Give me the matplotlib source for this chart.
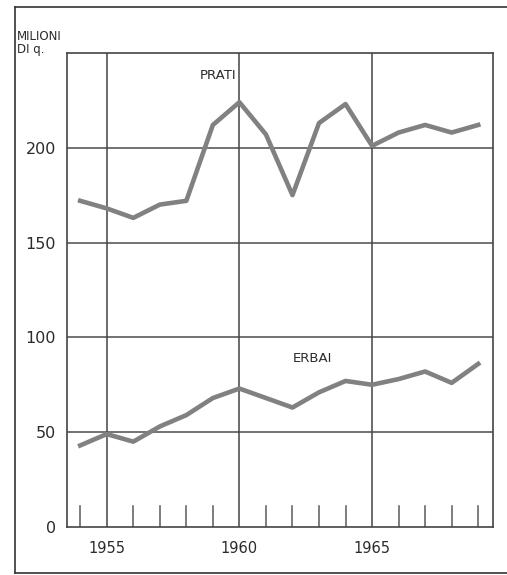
"""Produzione foraggere: prati ed erbai, 1954-1969 (milioni di q.)."""
import matplotlib
matplotlib.use("Agg")
import matplotlib.pyplot as plt
from matplotlib.lines import Line2D

years = list(range(1954, 1970))
prati = [172, 168, 163, 170, 172, 212, 224, 207, 175, 213, 223, 201, 208, 212, 208, 212]
erbai = [43, 49, 45, 53, 59, 68, 73, 68, 63, 71, 77, 75, 78, 82, 76, 86]
grid_years = [1955, 1960, 1965]
y_ticks = [0, 50, 100, 150, 200]

LINE = "#818181"
INK = "#2b2b2b"
GRID = "#5a5a5a"

plt.rcParams["font.family"] = ["DejaVu Sans"]

fig = plt.figure(figsize=(5.07, 5.75), dpi=100)
ax = fig.add_axes([0.132, 0.0835, 0.840, 0.8245])

ax.set_xlim(1953.5, 1969.55)
ax.set_ylim(0, 250)

# griglia orizzontale e verticale
for v in y_ticks[1:]:
    ax.axhline(v, color=GRID, lw=1.2, zorder=1)
for yr in grid_years:
    ax.axvline(yr, color="#444444", lw=1.1, zorder=1)

# tacche corte per gli anni intermedi
for yr in years:
    if yr not in grid_years:
        ax.plot([yr, yr], [0, 11], color=GRID, lw=1.1, zorder=1)

ax.plot(years, prati, color=LINE, lw=3.3, zorder=3)
ax.plot(years, erbai, color=LINE, lw=3.3, zorder=3)

ax.text(1960 - 0.8, 238, "PRATI", fontsize=9.5, color=INK, ha="center", va="center")
ax.text(1962.75, 89, "ERBAI", fontsize=9.5, color=INK, ha="center", va="center")

ax.set_yticks(y_ticks)
ax.set_yticklabels([str(v) for v in y_ticks], fontsize=11.5, color=INK)
ax.set_xticks(grid_years)
ax.set_xticklabels([str(v) for v in grid_years], fontsize=10.5, color=INK)
ax.tick_params(length=0)
ax.tick_params(axis="x", pad=10)
ax.tick_params(axis="y", pad=8)

for s in ax.spines.values():
    s.set_color("#444444")
    s.set_linewidth(1.2)

fig.text(17 / 507, 1 - 43 / 575, "MILIONI\nDI q.", fontsize=8.5, color=INK,
         ha="left", va="center", linespacing=0.9)

# cornice esterna (aperta a destra)
x0, y0, y1 = 15 / 507, 1 - 573 / 575, 1 - 7 / 575
for xs, ys in [([x0, 1], [y1, y1]), ([x0, x0], [y0, y1]), ([x0, 1], [y0, y0])]:
    fig.lines.append(Line2D(xs, ys, transform=fig.transFigure,
                            color="#333333", lw=1.2))

fig.savefig("out.png", dpi=100)
